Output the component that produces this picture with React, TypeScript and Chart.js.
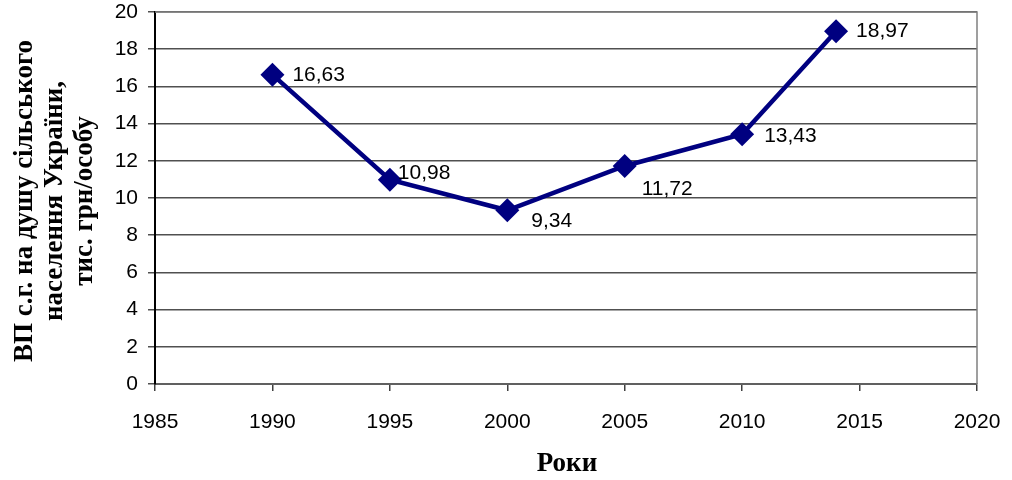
import { useEffect, useRef } from 'react';
import { Chart, registerables } from 'chart.js';

Chart.register(...registerables);

// data
const years = [1990, 1995, 2000, 2005, 2010, 2014];
const values = [16.63, 10.98, 9.34, 11.72, 13.43, 18.97];
const valueLabels = ['16,63', '10,98', '9,34', '11,72', '13,43', '18,97'];
// label offsets from the marker (dx, dy) in px
const labelOffsets = [
	[20, 1],
	[8, -7],
	[24, 11],
	[17, 23],
	[22, 2],
	[20, 0],
];
const yTitleLines = ['ВП с.г. на душу сільського', 'населення України,', 'тис. грн/особу'];
const xTitle = 'Роки';

const NAVY = '#000080';
const SANS = '"Liberation Sans", Arial, sans-serif';

const decorPlugin = {
	id: 'decor',
	afterDraw(chart) {
		const { ctx, chartArea } = chart;
		const { left, right, top, bottom } = chartArea;
		ctx.save();
		// plot frame top / right
		ctx.strokeStyle = '#808080';
		ctx.lineWidth = 1.5;
		ctx.beginPath();
		ctx.moveTo(left, top);
		ctx.lineTo(right, top);
		ctx.lineTo(right, bottom);
		ctx.stroke();

		// value labels
		const meta = chart.getDatasetMeta(0);
		ctx.fillStyle = '#000';
		ctx.font = '21px ' + SANS;
		ctx.textAlign = 'left';
		ctx.textBaseline = 'middle';
		meta.data.forEach((pt, i) => {
			const [dx, dy] = labelOffsets[i];
			ctx.fillText(valueLabels[i], pt.x + dx, pt.y + dy);
		});

		// axis titles
		ctx.font = 'bold 27px "Liberation Serif", "Times New Roman", serif';
		ctx.textAlign = 'center';
		ctx.textBaseline = 'middle';
		ctx.fillText(xTitle, 567, 464);

		ctx.translate(55, 201);
		ctx.rotate(-Math.PI / 2);
		yTitleLines.forEach((line, i) => {
			ctx.fillText(line, 0, (i - 1) * 30);
		});
		ctx.restore();
	},
};

export default function App() {
	const canvasRef = useRef(null);

	useEffect(() => {
		if (!canvasRef.current) return;
		const chart = new Chart(canvasRef.current, {
			type: 'line',
			data: {
				datasets: [
					{
						data: years.map((y, i) => ({ x: y, y: values[i] })),
						borderColor: NAVY,
						backgroundColor: NAVY,
						borderWidth: 4.5,
						pointStyle: 'rectRot',
						pointRadius: 12,
						pointBorderWidth: 0,
						pointBackgroundColor: NAVY,
						tension: 0,
					},
				],
			},
			options: {
				animation: false,
				responsive: true,
				maintainAspectRatio: false,
				layout: { padding: { top: 12, right: 35, left: 0, bottom: 0 } },
				plugins: {
					legend: { display: false },
					tooltip: { enabled: false },
				},
				scales: {
					x: {
						type: 'linear',
						min: 1985,
						max: 2020,
						afterFit: (scale) => {
							scale.height = 96;
							scale.paddingLeft = 0;
							scale.paddingRight = 0;
						},
						ticks: {
							stepSize: 5,
							color: '#000',
							font: { family: SANS, size: 21 },
							padding: 19,
							maxRotation: 0,
							callback: (v) => String(v),
						},
						grid: {
							drawOnChartArea: false,
							drawTicks: true,
							tickLength: 7,
							color: '#404040',
							lineWidth: 1.5,
						},
						border: { color: '#606060', width: 2 },
					},
					y: {
						min: 0,
						max: 20,
						afterFit: (scale) => {
							scale.width = 155;
							scale.paddingTop = 0;
							scale.paddingBottom = 0;
						},
						ticks: {
							stepSize: 2,
							color: '#000',
							font: { family: SANS, size: 21 },
							padding: 10,
						},
						grid: {
							color: '#505050',
							lineWidth: 1.5,
							tickLength: 7,
						},
						border: { color: '#000', width: 2 },
					},
				},
			},
			plugins: [decorPlugin],
		});
		return () => chart.destroy();
	}, []);

	return (
		<div style={{ position: 'fixed', left: 0, top: 0, width: 1012, height: 480, background: '#fff' }}>
			<canvas ref={canvasRef} />
		</div>
	);
}
